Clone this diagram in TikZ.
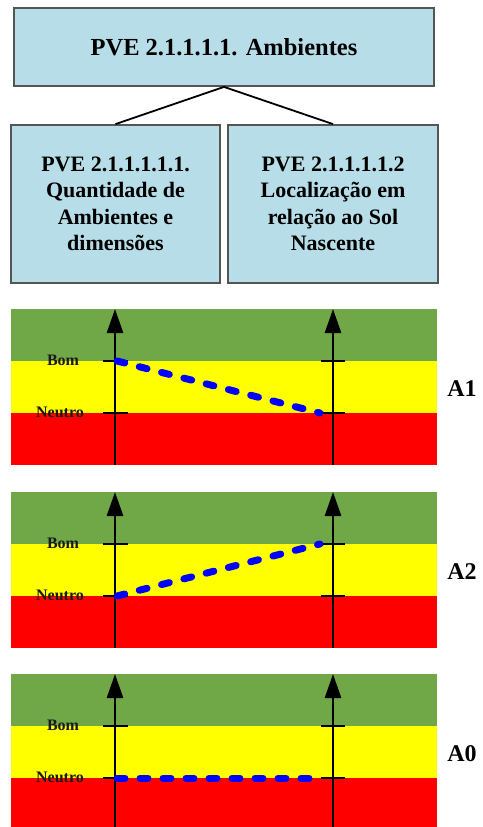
\documentclass[tikz,border=0pt]{standalone}
\usepackage{fontspec}
\setmainfont{Liberation Serif}
\usepackage{tikz}
\usetikzlibrary{calc,positioning,arrows.meta}
\definecolor{boxcyan}{RGB}{183,222,232}
\definecolor{boxedge}{RGB}{85,85,85}
\definecolor{bandgreen}{RGB}{112,168,72}
\definecolor{bandyellow}{RGB}{255,255,0}
\definecolor{bandred}{RGB}{255,0,0}
\definecolor{dashblue}{RGB}{0,0,255}
\definecolor{labeldark}{RGB}{25,25,25}

\begin{document}
\begin{tikzpicture}[x=1pt, y=-1pt,
    pvebox/.style={draw=boxedge, line width=1.8pt, fill=boxcyan, align=center,
      font=\fontsize{22}{26.5}\selectfont\bfseries, inner sep=0pt},
    axisline/.style={line width=2.8pt, -{Triangle[width=16pt,length=24pt]}},
    tickline/.style={line width=2.2pt},
    valline/.style={dashblue, line width=7pt, line cap=round, dash pattern=on 8pt off 15pt},
    lvl/.style={font=\fontsize{16}{16}\selectfont\bfseries, text=labeldark},
    alt/.style={font=\fontsize{24}{24}\selectfont\bfseries}]
  \useasboundingbox (0,0) rectangle (482,827);
  \clip (0,0) rectangle (482,827);
  % tree of criteria
  \node[pvebox, minimum width=420pt, minimum height=78pt, font=\fontsize{24.5}{26}\selectfont\bfseries] (pve) at (224,47) {PVE 2.1.1.1.1. Ambientes};
  \node[pvebox, minimum width=209pt, minimum height=158pt] (qtd) at (115.5,204) {PVE 2.1.1.1.1.1.\\Quantidade de\\Ambientes e\\dimensões};
  \node[pvebox, minimum width=210pt, minimum height=158pt] (loc) at (333,204) {PVE 2.1.1.1.1.2\\Localização em\\relação ao Sol\\Nascente};
  \draw[line width=1.8pt] (qtd.north) -- (pve.south) -- (loc.north);
  % alternatives: top of panel / left level / right level / label
  \foreach \t/\l/\r/\name in {309/52/104/A1, 492/104/52/A2, 674/104/104/A0} {
    \fill[bandgreen] (11,\t) rectangle (437,\t+52);
    \fill[bandyellow] (11,\t+52) rectangle (437,\t+104);
    \fill[bandred] (11,\t+104) rectangle (437,\t+156);
    \coordinate (lb\name) at (115,\t+156);
    \coordinate (lt\name) at (115,\t);
    \coordinate (rb\name) at (333,\t+156);
    \coordinate (rt\name) at (333,\t);
    \draw[axisline] (lb\name) -- (lt\name);
    \draw[axisline] (rb\name) -- (rt\name);
    \foreach \y in {52,104} {
      \draw[tickline] (103,\t+\y) -- (128,\t+\y);
      \draw[tickline] (321,\t+\y) -- (345,\t+\y);
    }
    \node[lvl] (bom\name) at (63,\t+51) {Bom};
    \node[lvl] (neu\name) at (60,\t+103) {Neutro};
    \coordinate (from\name) at (117,\t+\l);
    \coordinate (to\name) at (320,\t+\r);
    \draw[valline] (from\name) -- (to\name);
    \node[alt] (lab\name) at (462,\t+80) {\name};
  }
\end{tikzpicture}
\end{document}
